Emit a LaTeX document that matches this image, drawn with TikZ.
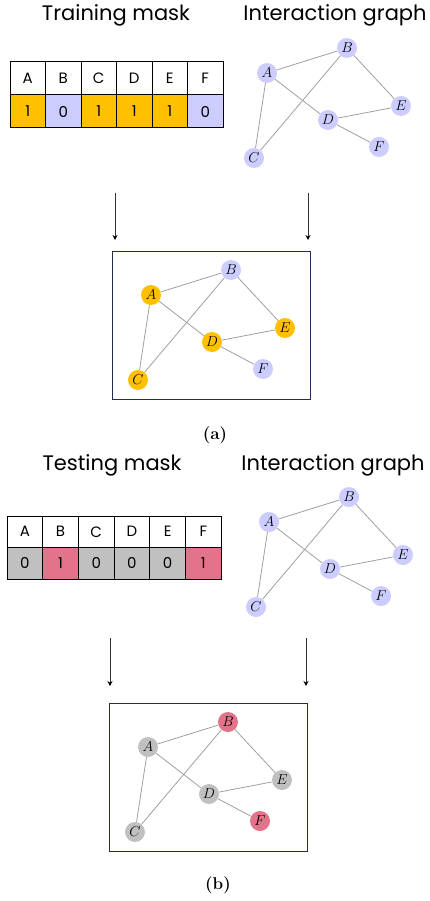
\documentclass[tikz,border=0pt]{standalone}
\usepackage{fontspec}
\setsansfont{Poppins}
\usetikzlibrary{arrows.meta}

\definecolor{maskgold}{RGB}{255,192,0}
\definecolor{masklav}{RGB}{204,204,255}
\definecolor{maskgray}{RGB}{192,192,192}
\definecolor{maskpink}{RGB}{226,115,138}
\definecolor{boxnavy}{RGB}{38,42,88}

\begin{document}
\begin{tikzpicture}[x=1pt, y=-1pt,
				vertex/.style={circle, fill=masklav, inner sep=0pt, minimum size=20pt, font=\fontsize{14.5}{14.5}\selectfont},
				edge/.style={draw=gray!75, line width=0.8pt},
				cell/.style={draw=black, line width=1pt, minimum width=35.5pt, minimum height=33pt, inner sep=0pt, font=\sffamily\fontsize{15}{15}\selectfont},
				title/.style={font=\sffamily\fontsize{21}{21}\selectfont, anchor=base},
				frame/.style={draw=boxnavy, line width=1.5pt, minimum width=198pt, minimum height=148pt},
				down/.style={draw=gray!40!black, line width=1pt, -{Stealth[length=5pt, width=5pt, color=black]}},
				caption/.style={font=\fontsize{17}{17}\selectfont\bfseries}
				]
				
				\useasboundingbox (0,0) rectangle (429,901);
				
				% (a) training
				\node[title] (ttrain) at (116,21) {Training mask};
				\node[title] (tintera) at (335,21) {Interaction graph};
				
				\foreach \lbl/\bit/\shade [count=\i from 0] in {A/1/maskgold, B/0/masklav, C/1/maskgold, D/1/maskgold, E/1/maskgold, F/0/masklav} {
					\node[cell] (tr-h\lbl) at (27.75+35.5*\i, 78.5) {\lbl};
					\node[cell, fill=\shade] (tr-v\lbl) at (27.75+35.5*\i, 111.5) {\bit};
				}
				
				\begin{scope}[name prefix=ga-]
					\foreach \v/\px/\py in {A/267/73, B/347/48, C/254/158, D/328/120, E/401/106, F/379/147}
						\node[vertex] (\v) at (\px,\py) {$\v$};
					\foreach \u/\w in {A/B, A/C, A/D, B/C, B/E, D/E, D/F}
						\draw[edge] (\u) -- (\w);
				\end{scope}
				
				\coordinate (arr-a1s) at (115,193);
				\coordinate (arr-a1e) at (115,240);
				\coordinate (arr-a2s) at (308,193);
				\coordinate (arr-a2e) at (308,240);
				\draw[down] (arr-a1s) -- (arr-a1e);
				\draw[down] (arr-a2s) -- (arr-a2e);
				
				\node[frame] (boxa) at (211.5,325.5) {};
				\begin{scope}[shift={(-116,222)}, name prefix=gb-]
					\foreach \v/\px/\py/\f in {A/267/73/maskgold, B/347/48/masklav, C/254/158/maskgold, D/328/120/maskgold, E/401/106/maskgold, F/379/147/masklav}
						\node[vertex, fill=\f] (\v) at (\px,\py) {$\v$};
					\foreach \u/\w in {A/B, A/C, A/D, B/C, B/E, D/E, D/F}
						\draw[edge] (\u) -- (\w);
				\end{scope}
				\node[caption] (capa) at (215,435) {(a)};
				
				% (b) testing
				\node[title] (ttest) at (112,470) {Testing mask};
				\node[title] (tinterb) at (333,470) {Interaction graph};
				
				\foreach \lbl/\bit/\shade [count=\i from 0] in {A/0/maskgray, B/1/maskpink, C/0/maskgray, D/0/maskgray, E/0/maskgray, F/1/maskpink} {
					\node[cell, minimum width=35.7pt, minimum height=31.5pt] (te-h\lbl) at (24.85+35.7*\i, 531.75) {\lbl};
					\node[cell, minimum width=35.7pt, minimum height=31.5pt, fill=\shade] (te-v\lbl) at (24.85+35.7*\i, 563.25) {\bit};
				}
				
				\begin{scope}[shift={(2,449)}, name prefix=gc-]
					\foreach \v/\px/\py in {A/267/73, B/347/48, C/254/158, D/328/120, E/401/106, F/379/147}
						\node[vertex] (\v) at (\px,\py) {$\v$};
					\foreach \u/\w in {A/B, A/C, A/D, B/C, B/E, D/E, D/F}
						\draw[edge] (\u) -- (\w);
				\end{scope}
				
				\coordinate (arr-b1s) at (110,638);
				\coordinate (arr-b1e) at (110,686);
				\coordinate (arr-b2s) at (306,638);
				\coordinate (arr-b2e) at (306,686);
				\draw[down] (arr-b1s) -- (arr-b1e);
				\draw[down] (arr-b2s) -- (arr-b2e);
				
				\node[frame] (boxb) at (208.5,777.5) {};
				\begin{scope}[shift={(-119,674)}, name prefix=gd-]
					\foreach \v/\px/\py/\f in {A/267/73/maskgray, B/347/48/maskpink, C/254/158/maskgray, D/328/120/maskgray, E/401/106/maskgray, F/379/147/maskpink}
						\node[vertex, fill=\f] (\v) at (\px,\py) {$\v$};
					\foreach \u/\w in {A/B, A/C, A/D, B/C, B/E, D/E, D/F}
						\draw[edge] (\u) -- (\w);
				\end{scope}
				\node[caption] (capb) at (218,885) {(b)};
				
			\end{tikzpicture}
\end{document}
